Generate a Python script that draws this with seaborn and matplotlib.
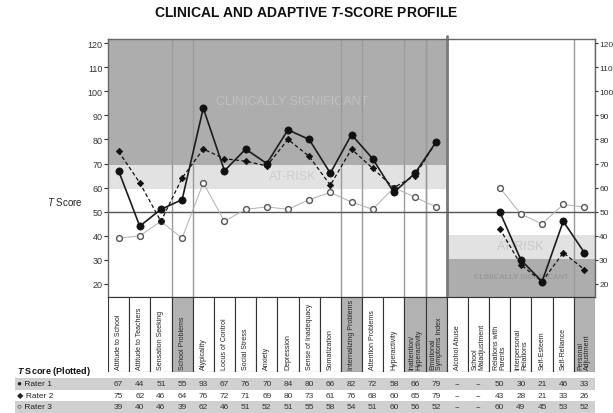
import numpy as np
import pandas as pd
import seaborn as sns
import matplotlib.pyplot as plt
from matplotlib.patches import Rectangle
from matplotlib import transforms

# scale names (columns of the profile)
scales = ["Attitude to School", "Attitude to Teachers", "Sensation Seeking", "School Problems",
          "Atypicality", "Locus of Control", "Social Stress", "Anxiety", "Depression",
          "Sense of Inadequacy", "Somatization", "Internalizing Problems", "Attention Problems",
          "Hyperactivity", "Inattention/\nHyperactivity", "Emotional\nSymptoms Index",
          "Alcohol Abuse", "School\nMaladjustment", "Relations with\nParents",
          "Interpersonal\nRelations", "Self-Esteem", "Self-Reliance", "Personal\nAdjustment"]
composites = ["School Problems", "Internalizing Problems", "Inattention/\nHyperactivity",
              "Emotional\nSymptoms Index", "Personal\nAdjustment"]
n_clinical = 16
nan = np.nan

# T scores per rater
rater1 = [67, 44, 51, 55, 93, 67, 76, 70, 84, 80, 66, 82, 72, 58, 66, 79, nan, nan, 50, 30, 21, 46, 33]
rater2 = [75, 62, 46, 64, 76, 72, 71, 69, 80, 73, 61, 76, 68, 60, 65, 79, nan, nan, 43, 28, 21, 33, 26]
rater3 = [39, 40, 46, 39, 62, 46, 51, 52, 51, 55, 58, 54, 51, 60, 56, 52, nan, nan, 60, 49, 45, 53, 52]
rater_names = ["Rater 1", "Rater 2", "Rater 3"]
y_ticks = list(range(20, 121, 10))

sns.set_style("white")
plt.rcParams["font.family"] = ["Liberation Sans", "DejaVu Sans"]
plt.rcParams["mathtext.fontset"] = "custom"
plt.rcParams["mathtext.it"] = "Liberation Sans:italic"
plt.rcParams["mathtext.bf"] = "Liberation Sans:italic:bold"

df = pd.DataFrame({"pos": np.arange(len(scales)), "Rater 1": rater1, "Rater 2": rater2, "Rater 3": rater3})
long = df.melt(id_vars="pos", var_name="rater", value_name="score").dropna()
long["section"] = np.where(long["pos"] < n_clinical, "clinical", "adaptive")

fig = plt.figure(figsize=(6.13, 4.14), dpi=100)
W, H = 613, 414
ax = fig.add_axes([108 / W, 1 - 298 / H, 487 / W, 258 / H])
ymin, ymax = 14.6, 121.7
xmin, xmax = -0.5, len(scales) - 0.5
dark, light = "#adadad", "#e2e2e2"

# background bands
ax.add_patch(Rectangle((xmin, 69.5), n_clinical, ymax - 69.5, color=dark, lw=0, zorder=0))
ax.add_patch(Rectangle((xmin, 59.5), n_clinical, 10, color=light, lw=0, zorder=0))
ax.add_patch(Rectangle((n_clinical - 0.5, ymin), xmax - n_clinical + 0.5, 30.5 - ymin, color=dark, lw=0, zorder=0))
ax.add_patch(Rectangle((n_clinical - 0.5, 30.5), xmax - n_clinical + 0.5, 10, color=light, lw=0, zorder=0))

ax.text(8.2, 96, "CLINICALLY SIGNIFICANT", ha="center", va="center", fontsize=9, color="#c0c0c0", zorder=1)
ax.text(8.2, 65, "AT-RISK", ha="center", va="center", fontsize=9, color="#cdcdcd", zorder=1)
ax.text(19.0, 35.7, "AT-RISK", ha="center", va="center", fontsize=9, color="#c8c8c8", zorder=1)
ax.text(19.0, 23, "CLINICALLY SIGNIFICANT", ha="center", va="center", fontsize=5.5,
        color="#999999", fontweight="bold", zorder=1)

# column separators for composite scales
for i, s in enumerate(scales):
    if s in composites:
        ax.axvline(i - 0.5, color="#9a9a9a", lw=1, zorder=1)
        ax.axvline(i + 0.5, color="#9a9a9a", lw=1, zorder=1)
ax.plot([n_clinical - 0.5] * 2, [ymin, 123], color="#7a7a7a", lw=2, clip_on=False, zorder=2)
ax.axhline(50, color="#555555", lw=1, zorder=2)

styles = {
    "Rater 3": dict(color="#b0b0b0", lw=0.7, marker="o", markersize=4.2, markerfacecolor="white",
                    markeredgecolor="#555555", markeredgewidth=1.0, zorder=3),
    "Rater 2": dict(color="#111111", lw=0.9, dashes=(3, 2), marker="D", markersize=3.3,
                    markerfacecolor="#111111", markeredgecolor="#111111", markeredgewidth=0.5, zorder=4),
    "Rater 1": dict(color="#1c1c1c", lw=1.2, marker="o", markersize=5.2, markerfacecolor="#111111",
                    markeredgecolor="#111111", markeredgewidth=0.5, zorder=5),
}
for name in ["Rater 3", "Rater 2", "Rater 1"]:
    sub = long[long["rater"] == name]
    sns.lineplot(data=sub, x="pos", y="score", units="section", estimator=None, sort=False,
                 ax=ax, legend=False, **styles[name])

ax.set_xlim(xmin, xmax)
ax.set_ylim(ymin, ymax)
ax.set_xticks([])
ax.set_yticks(y_ticks)
ax.set_xlabel("")
ax.set_ylabel("")
ax.tick_params(axis="y", left=True, direction="out", length=3, width=0.8, pad=1,
               labelsize=6.5, colors="#333333")
for sp in ax.spines.values():
    sp.set_color("#666666")
    sp.set_linewidth(1)

ax2 = ax.twinx()
ax2.set_ylim(ymin, ymax)
ax2.set_yticks(y_ticks)
ax2.tick_params(axis="y", right=True, direction="out", length=2.5, width=0.8, pad=0.5,
                labelsize=6, colors="#333333")
for sp in ax2.spines.values():
    sp.set_visible(False)

fig.text(47 / W, 1 - 202 / H, r"$T$ Score", fontsize=7, va="center", ha="left", color="#222222")
fig.text(0.5, 1 - 13 / H, r"CLINICAL AND ADAPTIVE $\mathbf{T}$-SCORE PROFILE", fontsize=10,
         fontweight="bold", ha="center", va="center", color="#111111")

# scale name boxes
axl = fig.add_axes([108 / W, 1 - 373 / H, 487 / W, 75 / H])
axl.set_xlim(xmin, xmax)
axl.set_ylim(0, 1)
axl.axis("off")
for i, s in enumerate(scales):
    fc = "#b3b3b3" if s in composites else "white"
    axl.add_patch(Rectangle((i - 0.5, 0), 1, 1, facecolor=fc, edgecolor="#333333", lw=0.8))
    axl.text(i, 0.04, s, rotation=90, ha="center", va="bottom", multialignment="left",
             fontsize=5, color="#222222", linespacing=1.0)

# score table
trans = transforms.blended_transform_factory(ax.transData, fig.transFigure)
fig.text(17 / W, 1 - 372 / H, r"$\mathbf{T}$ Score (Plotted)", fontsize=6.5, fontweight="bold",
         va="center", ha="left", color="#111111")
row_y = [385, 397, 408]
symbols = ["\u25CF", "\u25C6", "\u25CB"]
for r, (name, vals) in enumerate(zip(rater_names, [rater1, rater2, rater3])):
    yc = 1 - row_y[r] / H
    if r != 1:
        fig.add_artist(Rectangle((15 / W, yc - 6 / H), 580 / W, 12 / H, transform=fig.transFigure,
                                 facecolor="#d0d0d0", lw=0, zorder=0))
    fig.text(17 / W, yc, symbols[r] + " " + name, fontsize=6, va="center", ha="left", color="#222222")
    for i, v in enumerate(vals):
        txt = "--" if np.isnan(v) else f"{int(v)}"
        fig.text(i, yc, txt, transform=trans, fontsize=6, ha="center", va="center", color="#333333")

fig.savefig("out.png", dpi=100)
